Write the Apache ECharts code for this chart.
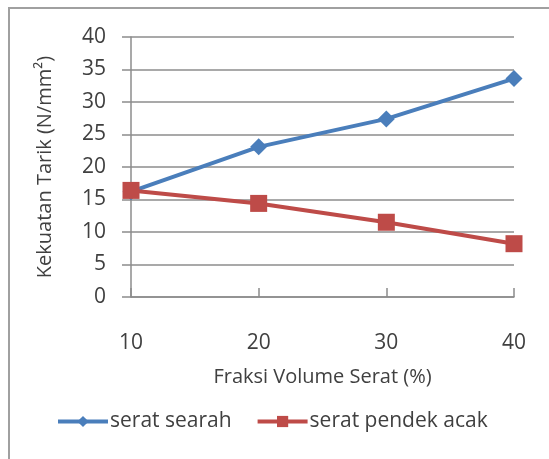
<!DOCTYPE html>
<html><head><meta charset="utf-8">
<script src="https://cdn.jsdelivr.net/npm/echarts@6/dist/echarts.min.js"></script>
<style>html,body{margin:0;padding:0;background:#fff}#c{width:549px;height:459px;position:relative}
#bt{position:absolute;left:8px;top:7px;right:0;height:0;border-top:2px solid #a0a0a0}
#bl{position:absolute;left:8px;top:7px;bottom:0;width:0;border-left:2px solid #a0a0a0}</style>
</head><body>
<div id="c"></div><div id="bt"></div><div id="bl"></div>
<script>
var categories = ['10', '20', '30', '40'];
var seratSearah = [16.2, 23.1, 27.4, 33.6];
var seratPendekAcak = [16.4, 14.4, 11.5, 8.2];
var yTicks = [0, 5, 10, 15, 20, 25, 30, 35, 40];

var font = 'Open Sans';
var chart = echarts.init(document.getElementById('c'));
chart.setOption({
  animation: false,
  grid: {left: 131, right: 35, top: 37, bottom: 162},
  legend: {
    bottom: 22, left: 51, itemWidth: 50, itemHeight: 14, itemGap: 24,
    lineStyle: {width: 4},
    textStyle: {fontFamily: font, fontSize: 21, color: '#404040', padding: [0, 0, 0, -3]},
    data: ['serat searah', 'serat pendek acak']
  },
  xAxis: {
    type: 'category', data: categories, boundaryGap: false,
    name: 'Fraksi Volume Serat (%)', nameLocation: 'middle', nameGap: 70,
    nameTextStyle: {fontFamily: font, fontSize: 20, color: '#404040'},
    axisLine: {lineStyle: {color: '#8c8c8c', width: 1.5}},
    axisTick: {inside: true, length: 9, lineStyle: {color: '#8c8c8c', width: 1.5}},
    axisLabel: {margin: 36, fontFamily: font, fontSize: 21, color: '#404040'}
  },
  yAxis: {
    type: 'value', min: 0, max: 40, interval: 5,
    name: 'Kekuatan Tarik (N/mm²)', nameLocation: 'middle', nameGap: 76,
    nameTextStyle: {fontFamily: font, fontSize: 20, color: '#404040'},
    axisLine: {show: true, lineStyle: {color: '#8c8c8c', width: 1.5}},
    axisTick: {show: true, length: 9, lineStyle: {color: '#8c8c8c', width: 1.5}},
    splitLine: {lineStyle: {color: '#8c8c8c', width: 1.5}},
    axisLabel: {margin: 25, fontFamily: font, fontSize: 21, color: '#404040',
      formatter: function (v) { return yTicks.indexOf(v) >= 0 ? String(v) : ''; }}
  },
  series: [
    {name: 'serat searah', type: 'line', data: seratSearah, symbol: 'diamond', symbolSize: 17,
     lineStyle: {color: '#4a7ebb', width: 4}, itemStyle: {color: '#4a7ebb'}},
    {name: 'serat pendek acak', type: 'line', data: seratPendekAcak, symbol: 'rect', symbolSize: 17,
     lineStyle: {color: '#be4b48', width: 4}, itemStyle: {color: '#be4b48'}}
  ]
});
</script>
</body></html>
